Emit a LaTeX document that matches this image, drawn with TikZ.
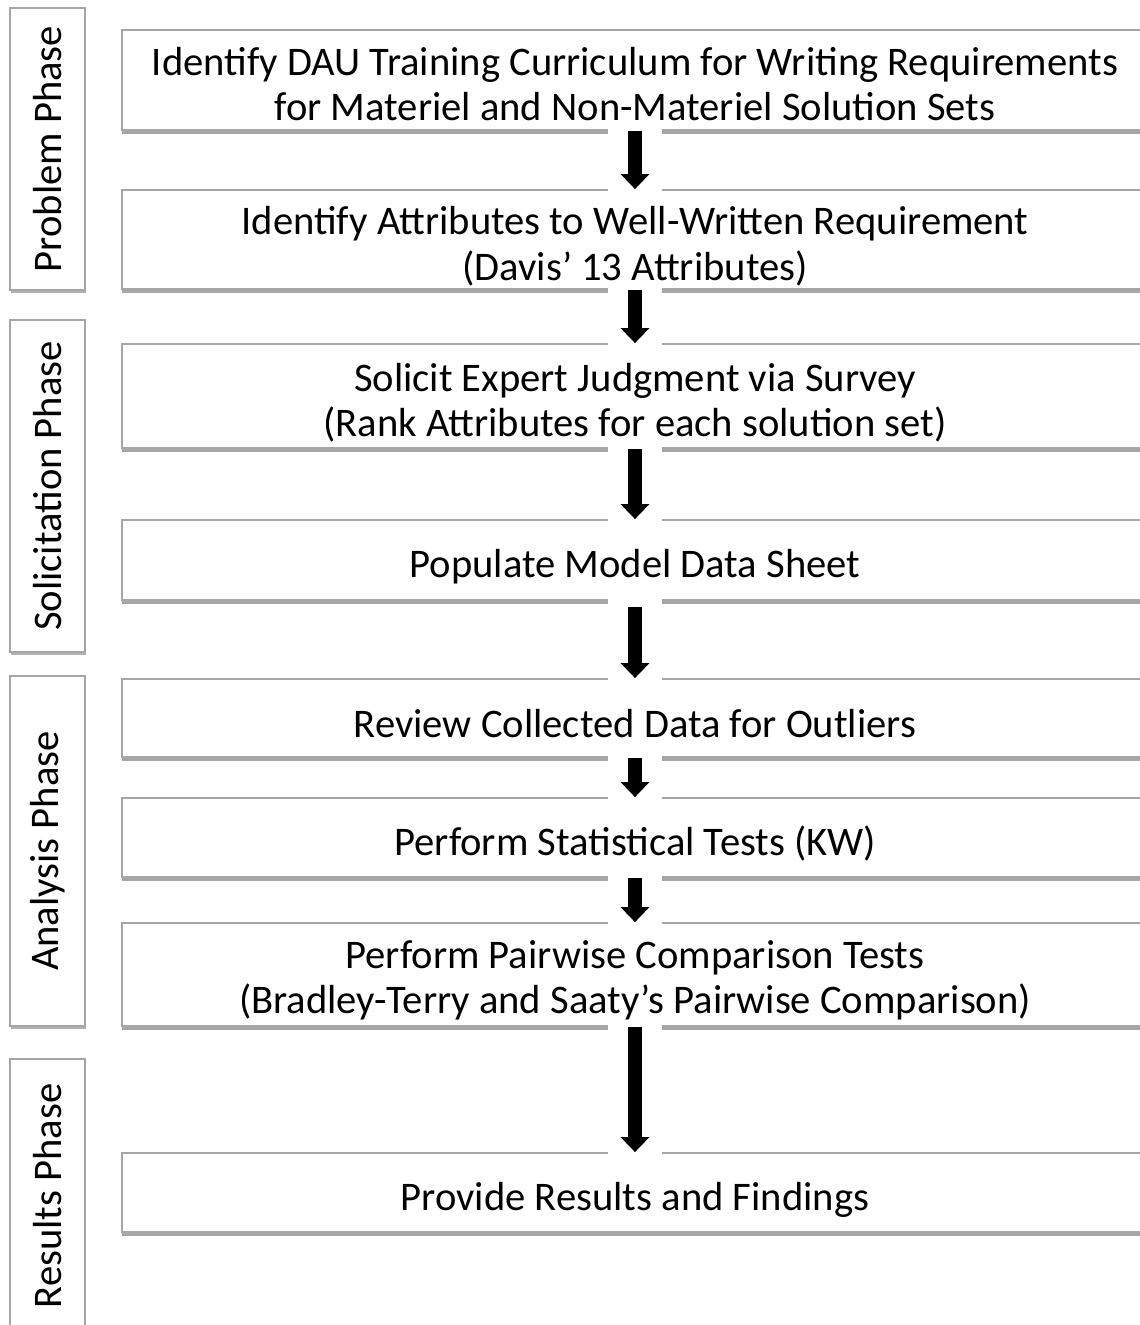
\documentclass[tikz,border=0pt]{standalone}
\usepackage{fontspec}
\usepackage{graphicx}
\setmainfont{Carlito}
\usetikzlibrary{arrows.meta,shadows,calc}
\definecolor{edgegray}{HTML}{A6A6A6}
\begin{document}
\begin{tikzpicture}[x=1pt,y=-1pt,
  txt/.style={font=\fontsize{40.6}{45.5}\selectfont},
  stepbox/.style={draw=edgegray, line width=1.8pt, fill=white,
    minimum width=1026pt, inner sep=0pt,
    drop shadow={shadow xshift=0pt, shadow yshift=-3.5pt, opacity=0.35, fill=black}},
  steptext/.style={txt, align=center, inner sep=0pt},
  phasebox/.style={draw=edgegray, line width=1.8pt, fill=white,
    minimum width=75pt, inner sep=0pt, txt,
    drop shadow={shadow xshift=1pt, shadow yshift=-3pt, opacity=0.3, fill=black}},
  flowarrow/.style={line width=14pt, black, -{Triangle[width=28pt,length=15pt]}},
  gap/.style={fill=white}]
\useasboundingbox (0,0) rectangle (1140,1325);
\clip (0,0) rectangle (1140,1325);

% phase boxes
\node[phasebox, minimum height=282pt] (p1) at (47.5,149) {\rotatebox{90}{Problem Phase}};
\node[phasebox, minimum height=332pt] (p2) at (47.5,486) {\rotatebox{90}{Solicitation Phase}};
\node[phasebox, minimum height=350pt] (p3) at (47.5,851) {\rotatebox{90}{Analysis Phase}};
\node[phasebox, minimum height=274pt] (p4) at (47.5,1196) {\rotatebox{90}{Results Phase}};

% step boxes
\node[stepbox, minimum height=100pt] (b1) at (635,80) {};
\node[steptext] (t1) at (635,84)
  {Identify DAU Training Curriculum for Writing Requirements\\for Materiel and Non-Materiel Solution Sets};
\node[stepbox, minimum height=99pt] (b2) at (635,239.5) {};
\node[steptext] (t2) at (635,246)
  {Identify Attributes to Well-Written Requirement\\(Davis’ 13 Attributes)};
\node[stepbox, minimum height=104pt] (b3) at (635,396) {};
\node[steptext] (t3) at (635,402.5)
  {Solicit Expert Judgment via Survey\\(Rank Attributes for each solution set)};
\node[stepbox, minimum height=80pt] (b4) at (635,560) {};
\node[steptext] (t4) at (635,567) {Populate Model Data Sheet};
\node[stepbox, minimum height=78pt] (b5) at (635,718) {};
\node[steptext] (t5) at (635,723.5) {Review Collected Data for Outliers};
\node[stepbox, minimum height=79pt] (b6) at (635,837.5) {};
\node[steptext] (t6) at (635,843) {Perform Statistical Tests (KW)};
\node[stepbox, minimum height=103pt] (b7) at (635,974.5) {};
\node[steptext] (t7) at (635,980.5)
  {Perform Pairwise Comparison Tests\\(Bradley-Terry and Saaty’s Pairwise Comparison)};
\node[stepbox, minimum height=79pt] (b8) at (635,1192.5) {};
\node[steptext] (t8) at (635,1199.5) {Provide Results and Findings};

% arrows
\foreach \a/\b in {b1/b2,b2/b3,b3/b4,b4/b5,b5/b6,b6/b7,b7/b8}{
  \fill[gap] ($(\a.south)+(-27,-2)$) rectangle ($(\b.north)+(27,2)$);
}
\draw[flowarrow] (b1.south) -- (b2.north);
\draw[flowarrow] (b2.south) -- (b3.north);
\draw[flowarrow] (b3.south) -- (b4.north);
\draw[flowarrow] ($(b4.south)+(0,6)$) -- (b5.north);
\draw[flowarrow] (b5.south) -- (b6.north);
\draw[flowarrow] (b6.south) -- (b7.north);
\draw[flowarrow] (b7.south) -- (b8.north);
\end{tikzpicture}
\end{document}
